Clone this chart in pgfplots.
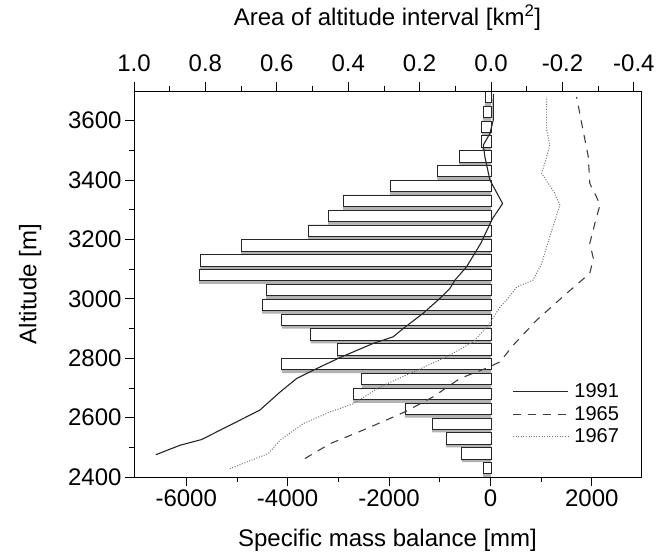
\documentclass[border=0pt]{standalone}
\usepackage{fontspec}
\setmainfont{Liberation Sans}
\usepackage{pgfplots}
\pgfplotsset{compat=1.18}
\usepackage{pgfplotstable}
\pgfplotstableread{
alt area
3675 0.017
3625 0.022
3575 0.026
3525 0.026
3475 0.089
3425 0.150
3375 0.283
3325 0.414
3275 0.456
3225 0.512
3175 0.700
3125 0.815
3075 0.818
3025 0.630
2975 0.641
2925 0.586
2875 0.505
2825 0.431
2775 0.586
2725 0.362
2675 0.386
2625 0.241
2575 0.165
2525 0.126
2475 0.082
2425 0.022
}\bars
\begin{document}
\begin{tikzpicture}
\pgfplotsset{
  common/.style={scale only axis, width=507pt, height=386pt, ymin=2400, ymax=3700,
    tick style={black, line width=0.8pt}, major tick length=9pt, minor tick length=5pt,
    tick align=outside,
    ticklabel style={font=\fontsize{24}{28}\selectfont},
    label style={font=\fontsize{24}{28}\selectfont},
    axis line style={line width=0.9pt}},
}
\begin{axis}[common, x dir=reverse, xmin=-0.42, xmax=1.0,
  axis x line*=top, axis y line=none,
  xtick={-0.4,-0.2,0,0.2,0.4,0.6,0.8,1.0},
  xticklabels={-0.4,-0.2,0.0,0.2,0.4,0.6,0.8,1.0},
  minor x tick num=1,
  xlabel={Area of altitude interval [km\textsuperscript{2}]},
  xlabel style={at={(axis description cs:0.5,1.189)}, anchor=center},
  xticklabel style={yshift=7pt}]
\addplot[xbar, bar width=50, bar shift=0, fill=gray!60, draw=none] table[x=area, y=alt] {\bars};
\addplot[xbar, bar width=38, bar shift=5, fill=white, draw=black!85, line width=0.7pt] table[x=area, y=alt] {\bars};
\end{axis}
\begin{axis}[common, name=main, xmin=-7030, xmax=2970,
  xtick={-6000,-4000,-2000,0,2000},
  xticklabels={-6000,-4000,-2000,0,2000},
  minor x tick num=1, xtick pos=left,
  ytick={2400,2600,2800,3000,3200,3400,3600},
  yticklabels={2400,2600,2800,3000,3200,3400,3600},
  minor y tick num=1, ytick pos=left,
  xlabel={Specific mass balance [mm]},
  xlabel style={at={(axis description cs:0.5,-0.163)}, anchor=center},
  ylabel={Altitude [m]},
  ylabel style={at={(axis description cs:-0.205,0.5)}, anchor=center},
  legend style={at={(axis description cs:0.74,0.163)}, anchor=west, draw=none, fill=none,
    font=\fontsize{20}{23}\selectfont, row sep=3pt, column sep=4pt},
  legend cell align=left,
  legend image code/.code={\draw[#1] (0pt,0pt) -- (55pt,0pt);}]
\addplot[black!85, line width=1.1pt] coordinates {
(-6600,2475) (-6120,2507) (-5700,2526) (-4550,2625) (-4150,2686) (-3820,2732)
(-3490,2760) (-2970,2802) (-2310,2850) (-1920,2872) (-1720,2900) (-1330,2951)
(-1000,3001) (-800,3035) (-700,3063) (-470,3108) (-190,3187) (40,3270)
(240,3321) (-10,3400) (-110,3479) (-140,3518) (-10,3557) (56,3602) (56,3670) (60,3690)};
\addlegendentry{1991}
\addplot[black!75, line width=1.1pt, dash pattern=on 8pt off 7pt] coordinates {
(-3660,2462) (-3165,2512) (-2440,2563) (-1690,2619) (-1130,2670) (-600,2732)
(-40,2769) (190,2788) (450,2844) (910,2928) (1500,3018) (1960,3086)
(2030,3136) (1960,3187) (2060,3254) (2160,3316) (2090,3344) (1960,3389)
(1930,3479) (1800,3591) (1700,3680)};
\addlegendentry{1965}
\addplot[black!55, line width=1pt, dash pattern=on 1pt off 1.6pt] coordinates {
(-5140,2428) (-4380,2479) (-4150,2524) (-3690,2580) (-3165,2619) (-2700,2647)
(-2180,2703) (-1520,2754) (-860,2805) (-340,2855) (-40,2911) (190,2973)
(320,2996) (520,3040) (840,3063) (1010,3119) (1170,3209) (1370,3316)
(1270,3355) (1010,3423) (1110,3479) (1170,3518) (1110,3569) (1110,3680)};
\addlegendentry{1967}
\end{axis}
\pgfresetboundingbox
\path[use as bounding box] ([xshift=-134pt,yshift=-81pt]main.south west) rectangle ([xshift=20pt,yshift=91pt]main.north east);
\end{tikzpicture}
\end{document}
